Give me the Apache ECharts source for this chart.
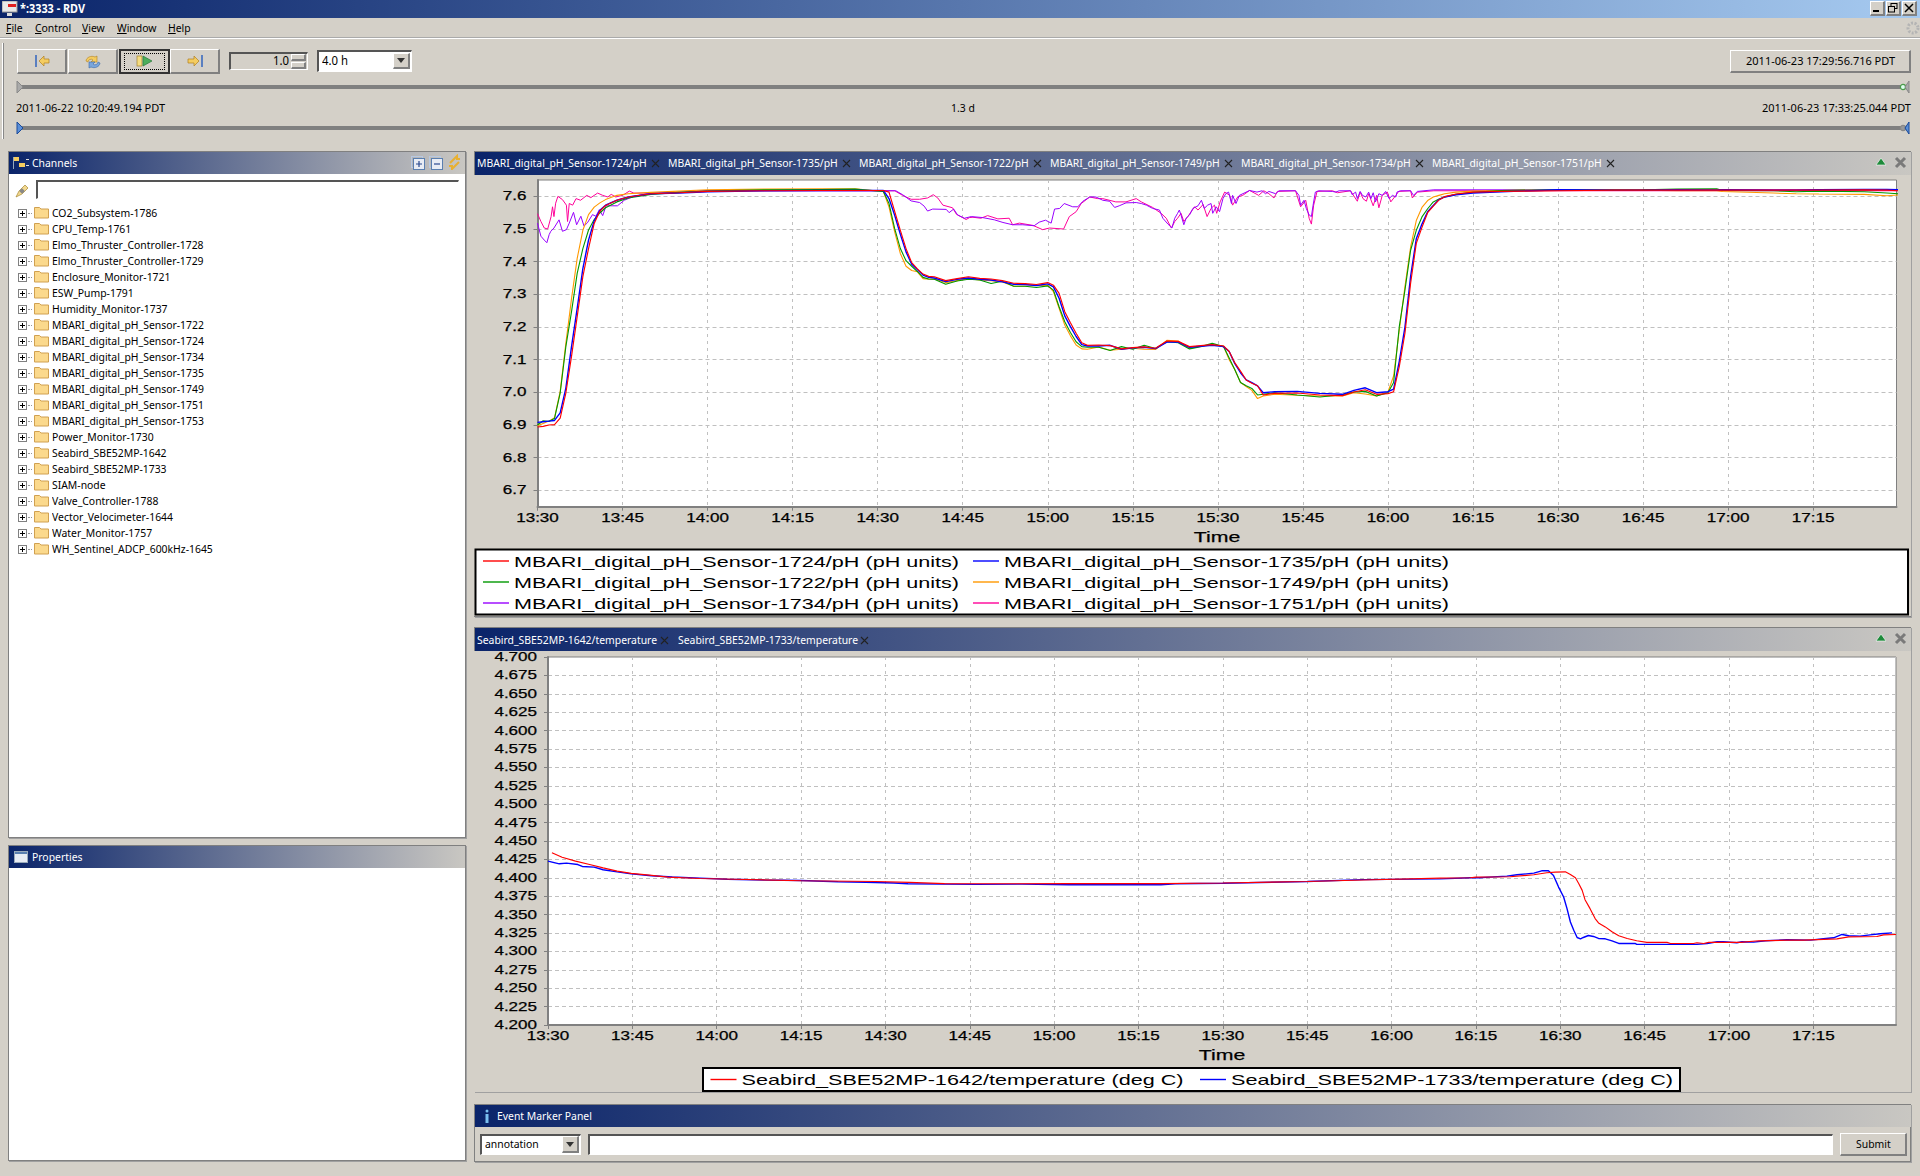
<!DOCTYPE html>
<html><head><meta charset="utf-8"><title>RDV</title>
<script src="https://cdn.jsdelivr.net/npm/echarts@6/dist/echarts.min.js"></script>
<style>
html,body{margin:0;padding:0;width:1920px;height:1176px;overflow:hidden;background:#d4d0c8;font-family:"Noto Sans",sans-serif;font-size:11px;color:#000}
.a{position:absolute;box-sizing:border-box}
.t{position:absolute;white-space:nowrap;line-height:14px;height:14px;transform:scaleX(.945);transform-origin:left center}
.hdr{position:absolute;background:linear-gradient(90deg,#0a246a,#c9c7c2);}
.panel{position:absolute;box-sizing:border-box;border:1px solid #808080;border-right-color:#808080;box-shadow:1px 1px 0 #a0a0a0}
.raised{border-top:1px solid #fff;border-left:1px solid #fff;border-right:2px solid #808080;border-bottom:2px solid #808080;background:#d4d0c8}
.sunken{border-top:2px solid #555;border-left:2px solid #555;border-right:1px solid #fff;border-bottom:1px solid #fff}
svg{display:block}
#ui>svg{position:absolute}
</style></head><body>
<div id="ui"></div>
<div id="c1" class="a" style="left:474px;top:175px;width:1437px;height:441px"></div>
<div id="c2" class="a" style="left:474px;top:651px;width:1437px;height:441px"></div>
<script>
// ---------- UI text ----------
const channels=["CO2_Subsystem-1786","CPU_Temp-1761","Elmo_Thruster_Controller-1728","Elmo_Thruster_Controller-1729","Enclosure_Monitor-1721","ESW_Pump-1791","Humidity_Monitor-1737","MBARI_digital_pH_Sensor-1722","MBARI_digital_pH_Sensor-1724","MBARI_digital_pH_Sensor-1734","MBARI_digital_pH_Sensor-1735","MBARI_digital_pH_Sensor-1749","MBARI_digital_pH_Sensor-1751","MBARI_digital_pH_Sensor-1753","Power_Monitor-1730","Seabird_SBE52MP-1642","Seabird_SBE52MP-1733","SIAM-node","Valve_Controller-1788","Vector_Velocimeter-1644","Water_Monitor-1757","WH_Sentinel_ADCP_600kHz-1645"];
const menus=[["File",6],["Control",35],["View",82],["Window",117],["Help",168]];
const phTabs=["MBARI_digital_pH_Sensor-1724/pH","MBARI_digital_pH_Sensor-1735/pH","MBARI_digital_pH_Sensor-1722/pH","MBARI_digital_pH_Sensor-1749/pH","MBARI_digital_pH_Sensor-1734/pH","MBARI_digital_pH_Sensor-1751/pH"];
const tempTabs=["Seabird_SBE52MP-1642/temperature","Seabird_SBE52MP-1733/temperature"];

// ---------- series names ----------
const phNames=["MBARI_digital_pH_Sensor-1724/pH (pH units)","MBARI_digital_pH_Sensor-1735/pH (pH units)","MBARI_digital_pH_Sensor-1722/pH (pH units)","MBARI_digital_pH_Sensor-1749/pH (pH units)","MBARI_digital_pH_Sensor-1734/pH (pH units)","MBARI_digital_pH_Sensor-1751/pH (pH units)"];
const tempNames=["Seabird_SBE52MP-1642/temperature (deg C)","Seabird_SBE52MP-1733/temperature (deg C)"];

// ---------- axis ticks ----------
const timeTicks=[810,825,840,855,870,885,900,915,930,945,960,975,990,1005,1020,1035];
const phTicks=[6.7,6.8,6.9,7.0,7.1,7.2,7.3,7.4,7.5,7.6];

// ---------- pH data (minutes since midnight) ----------
const tMain=[810,811,812,813,814,815,816,817,818,819,820,821,822,824,826,830,835,840,850,860,866,871,872,873,874,875,876,877,878,879,880,882,884,886,888,890,892,894,896,898,900,901,902,903,904,905,906,907,909,911,913,915,917,919,921,923,925,927,929,931,932,933,934,935,936,937,938,940,944,948,952,954,956,958,960,961,962,963,964,965,966,967,968,969,970,972,975,980,990,1000,1005,1011,1018,1019,1028,1032,1036,1044,1048,1050];
const s1724=[6.894,6.896,6.9,6.901,6.921,6.998,7.11,7.232,7.354,7.44,7.517,7.555,7.572,7.588,7.598,7.608,7.611,7.615,7.617,7.618,7.618,7.618,7.613,7.554,7.496,7.44,7.397,7.378,7.362,7.355,7.354,7.342,7.348,7.354,7.349,7.347,7.342,7.334,7.333,7.33,7.336,7.328,7.303,7.247,7.213,7.181,7.152,7.144,7.145,7.143,7.133,7.137,7.139,7.135,7.157,7.156,7.14,7.143,7.146,7.142,7.125,7.09,7.065,7.038,7.028,7.02,6.992,6.997,6.998,6.992,6.99,7.001,7.008,6.994,6.996,7.002,7.079,7.181,7.334,7.456,7.505,7.55,7.57,7.589,7.599,7.607,7.613,7.615,7.617,7.619,7.619,7.619,7.619,7.619,7.619,7.619,7.619,7.62,7.619,7.617];
const s1735=[6.908,6.91,6.912,6.914,6.937,7.013,7.14,7.257,7.379,7.466,7.525,7.557,7.573,7.588,7.598,7.608,7.61,7.614,7.617,7.618,7.618,7.618,7.593,7.542,7.484,7.43,7.392,7.376,7.359,7.352,7.35,7.339,7.346,7.35,7.346,7.344,7.338,7.331,7.33,7.327,7.332,7.323,7.288,7.234,7.201,7.171,7.146,7.142,7.142,7.144,7.132,7.136,7.138,7.134,7.154,7.154,7.138,7.141,7.144,7.14,7.125,7.088,7.06,7.038,7.03,7.02,6.999,7.002,7.003,6.997,6.994,7.006,7.014,6.999,7.002,7.01,7.095,7.2,7.355,7.47,7.515,7.553,7.572,7.59,7.598,7.605,7.61,7.614,7.62,7.619,7.619,7.62,7.619,7.62,7.619,7.619,7.62,7.621,7.621,7.62];
const s1722=[6.9,6.913,6.911,6.92,6.998,7.14,7.247,7.364,7.44,7.497,7.529,7.549,7.565,7.583,7.595,7.606,7.612,7.616,7.62,7.621,7.622,7.615,7.578,7.501,7.44,7.403,7.386,7.37,7.352,7.347,7.346,7.331,7.341,7.346,7.344,7.333,7.34,7.325,7.325,7.321,7.326,7.313,7.262,7.216,7.183,7.155,7.14,7.138,7.138,7.128,7.14,7.132,7.144,7.134,7.155,7.152,7.133,7.14,7.15,7.14,7.105,7.069,7.03,7.02,7.012,6.992,6.994,6.999,6.992,6.986,6.993,7.001,7.003,6.989,6.999,7.03,7.201,7.313,7.435,7.496,7.537,7.562,7.583,7.592,7.598,7.606,7.612,7.618,7.62,7.619,7.62,7.622,7.623,7.618,7.617,7.614,7.616,7.614,7.61,7.608];
const s1749=[6.898,6.905,6.912,6.922,7.003,7.15,7.287,7.41,7.496,7.544,7.567,7.58,7.59,7.603,7.608,7.612,7.616,7.62,7.622,7.623,7.623,7.615,7.567,7.491,7.425,7.386,7.373,7.369,7.348,7.346,7.347,7.336,7.342,7.348,7.344,7.342,7.338,7.325,7.325,7.327,7.328,7.308,7.257,7.206,7.173,7.145,7.133,7.132,7.139,7.129,7.132,7.135,7.132,7.131,7.159,7.157,7.134,7.141,7.145,7.142,7.1,7.069,7.03,7.018,7.006,6.981,6.989,6.994,6.991,6.989,6.989,6.999,6.995,6.989,7.001,7.05,7.19,7.324,7.445,7.526,7.566,7.587,7.598,7.603,7.608,7.613,7.616,7.618,7.62,7.62,7.619,7.617,7.617,7.615,7.61,7.608,7.607,7.606,7.602,7.604];

const t1734=[810,810.6,811.2,811.65,812.06,812.35,812.9,813.8,814.4,815.1,815.6,816.35,816.9,817.65,818.2,818.8,819.7,820.3,820.9,821.5,822.1,824.1,825.3,827,829.4,833,840,873.2,874.4,875.9,877.4,878.2,878.8,879.7,882.1,882.6,883.4,884.1,885.3,886.5,888.5,890.6,892.1,893.8,895.6,897.6,898.5,899.6,900.6,901.2,902.1,902.9,904.4,905.3,906.2,907.4,908.5,909.7,910.9,911.8,912.6,913.8,915.6,916.5,917.4,918.5,919.7,920.3,921.2,921.9,922.4,922.9,923.2,923.5,924,924.4,925,925.6,926.5,927.1,927.6,928.2,928.8,929.1,929.7,930.3,930.9,931.4,931.9,932.4,932.6,933.2,933.8,935.6,936.9,937.8,938.4,939,940.2,940.8,943.7,944.3,944.6,945.2,945.6,946.1,946.5,946.8,947.2,947.8,950.2,950.8,951.4,953.4,953.7,954.3,954.6,955.1,955.5,956.1,956.6,957,957.4,957.8,958.4,959,959.6,960.2,960.8,961.4,961.6,962.2,964,964.5,965.2,968.1,1050];
const s1734=[7.518,7.478,7.466,7.458,7.483,7.493,7.503,7.528,7.493,7.498,7.518,7.551,7.513,7.539,7.509,7.519,7.544,7.539,7.559,7.541,7.571,7.571,7.588,7.6,7.608,7.611,7.617,7.617,7.605,7.586,7.581,7.57,7.555,7.561,7.56,7.55,7.561,7.543,7.533,7.538,7.535,7.528,7.52,7.513,7.513,7.51,7.521,7.527,7.518,7.561,7.563,7.578,7.568,7.568,7.585,7.598,7.598,7.588,7.585,7.566,7.571,7.58,7.581,7.578,7.573,7.563,7.558,7.533,7.515,7.503,7.533,7.548,7.558,7.543,7.513,7.533,7.543,7.563,7.571,7.588,7.563,7.573,7.578,7.548,7.568,7.553,7.593,7.608,7.613,7.578,7.603,7.578,7.603,7.618,7.613,7.617,7.608,7.615,7.608,7.617,7.617,7.603,7.573,7.588,7.563,7.543,7.538,7.573,7.613,7.617,7.615,7.613,7.617,7.617,7.605,7.613,7.593,7.615,7.603,7.598,7.613,7.593,7.611,7.583,7.608,7.603,7.615,7.593,7.603,7.598,7.613,7.617,7.617,7.603,7.615,7.62,7.62];

const t1751=[810,810.6,811.2,811.8,812.4,812.65,812.9,813.2,813.6,814.4,815.1,815.3,815.6,816.2,816.8,817.6,818.7,819.4,820.6,821.5,822.4,823,823.8,825,826.2,827,829.4,835,840,873,874.4,875.9,877.4,878.8,879.8,880.6,881.5,883.2,883.9,885.6,886.2,886.8,888.2,889.4,891.2,893.2,893.8,895,897.4,899.1,900.3,902.8,903.8,905,905.9,907.4,908.8,909.7,912,913.8,915.6,916.5,918.5,920,920.9,921.8,922.4,922.9,923.5,924,924.7,925.9,926.5,927.4,928.1,928.8,929.4,929.8,930.4,931.2,932.1,932.6,933.5,934.4,935.6,937.2,938.1,939,939.9,940.5,943.7,944.6,945.5,946.1,946.5,946.9,947.5,950.2,951.1,953.4,954,954.6,955.1,955.6,956.2,956.6,957.4,958,958.4,959,959.9,960.5,961.4,961.9,964,964.3,965.2,968.1,1050];
const s1751=[7.547,7.523,7.503,7.5,7.538,7.568,7.538,7.579,7.6,7.59,7.573,7.523,7.578,7.573,7.593,7.588,7.603,7.596,7.61,7.603,7.598,7.606,7.598,7.603,7.616,7.61,7.61,7.612,7.618,7.617,7.603,7.591,7.591,7.595,7.605,7.595,7.573,7.565,7.545,7.529,7.535,7.536,7.533,7.541,7.531,7.533,7.513,7.518,7.511,7.498,7.503,7.5,7.538,7.553,7.578,7.598,7.593,7.593,7.583,7.583,7.593,7.583,7.566,7.548,7.533,7.503,7.523,7.533,7.548,7.523,7.538,7.568,7.558,7.575,7.538,7.563,7.573,7.548,7.583,7.613,7.603,7.573,7.598,7.603,7.618,7.603,7.617,7.608,7.595,7.615,7.617,7.568,7.588,7.533,7.515,7.573,7.615,7.617,7.611,7.617,7.601,7.585,7.613,7.593,7.585,7.608,7.571,7.603,7.565,7.603,7.613,7.583,7.603,7.615,7.617,7.595,7.613,7.617,7.617];

// ---------- temperature data ----------
const t1642=[810.7,812.5,814.9,817.4,819.8,822.3,824.8,828,831.3,837,845.2,855,868.2,874.3,880.5,886.2,902.6,919,930,945,955,968.66,974,975,981.1,985.3,987.6,989.1,990.9,991.8,992.7,993.3,993.9,994.4,995.3,996.2,996.8,998,999.2,1000.4,1001.9,1003.6,1005.4,1009,1009.6,1013.7,1014.3,1015.5,1016.4,1022,1025.3,1030.3,1033.3,1039.2,1041.3,1046.3,1047.5,1049.7];
const s1642=[4.434,4.428,4.4226,4.418,4.4135,4.409,4.406,4.4036,4.401,4.399,4.3977,4.396,4.395,4.3937,4.392,4.3919,4.392,4.392,4.393,4.395,4.397,4.3995,4.4,4.4009,4.4014,4.4041,4.4068,4.4077,4.4081,4.4045,4.4,4.3919,4.3829,4.3703,4.3581,4.3446,4.3387,4.3333,4.3266,4.3212,4.3176,4.3144,4.3122,4.3122,4.3108,4.3108,4.3117,4.3108,4.3122,4.3122,4.3144,4.3153,4.3153,4.3171,4.3198,4.3203,4.3225,4.323];
const t1733=[810,812,813.3,815.3,816.1,818.2,819.8,822.3,824.8,828.4,832.1,837,841.9,848.5,855,861.6,866.5,871.5,874,886.2,894.3,902.6,919,921.5,930,945,955,968.66,974,975.5,980.5,982.3,985.3,986.7,987.9,988.8,989.7,990.6,991.2,991.8,992.4,993,993.6,994.1,995,995.9,996.8,998,999.2,1000.4,1003.3,1003.6,1014.3,1016.1,1017.9,1019,1021.4,1022.3,1024.4,1026.5,1030.3,1034.5,1036.8,1038.6,1040.1,1041.3,1043.3,1045.1,1046.9,1049];
const s1733=[4.4226,4.419,4.42,4.418,4.4154,4.4145,4.411,4.408,4.4054,4.4027,4.401,4.3995,4.398,4.397,4.3964,4.3946,4.394,4.393,4.392,4.391,4.3914,4.3905,4.3905,4.392,4.3925,4.395,4.3975,4.3986,4.4,4.4,4.4023,4.4041,4.4063,4.4095,4.4095,4.4032,4.3874,4.3739,4.3581,4.34,4.3288,4.3189,4.3171,4.3189,4.3216,4.3203,4.3176,4.3171,4.3144,4.3108,4.3108,4.3095,4.3095,4.3108,4.3131,4.3131,4.3117,4.3131,4.3126,4.3144,4.3158,4.3153,4.3171,4.3185,4.323,4.3212,4.3207,4.3225,4.3239,4.3252];

// ---------- build the application chrome ----------
const ui=document.getElementById('ui');
function box(x,y,w,h,css,cls){const d=document.createElement('div');d.className='a '+(cls||'');d.style.cssText+=`left:${x}px;top:${y}px;width:${w}px;height:${h}px;`+(css||'');ui.appendChild(d);return d;}
function txt(s,x,cy,css){const d=document.createElement('div');d.className='t';d.textContent=s;d.style.cssText+=`left:${x}px;top:${cy-7}px;`+(css||'');ui.appendChild(d);return d;}
function rtxt(s,r,cy,css){const d=txt(s,0,cy,css);d.style.left='auto';d.style.right=(1920-r)+'px';d.style.transformOrigin='right center';return d;}
function svg(x,y,w,h,inner){const d=document.createElement('div');d.innerHTML=`<svg style="left:${x}px;top:${y}px" width="${w}" height="${h}" viewBox="0 0 ${w} ${h}">${inner}</svg>`;ui.appendChild(d.firstChild);}
function hdr(x,y,w,h){return box(x,y,w,h,'','hdr');}
function closeX(x,cy){svg(x-4,cy-4,9,9,'<path d="M1 1l7 7M8 1l-7 7" stroke="#222" stroke-width="1.1"/>');}

// title bar
box(0,0,1920,18,'background:linear-gradient(90deg,#0a246a,#a6caf0)');
svg(2,1,16,16,'<rect x="0" y="0" width="15" height="11" fill="#e8e8e8" stroke="#999"/><rect x="6" y="3" width="8" height="3" fill="#e02020"/><rect x="5" y="12" width="5" height="3" fill="#ddd"/>');
txt('*:3333 - RDV',20,9,'color:#fff;font-weight:700;font-size:11.5px;');
[1870,1886,1902].forEach((x,i)=>{box(x,1,15,15,'','raised');
 svg(x+2,3,10,10,['<rect x="1" y="7" width="6" height="2" fill="#000"/>','<rect x="3" y="0.5" width="6" height="5" fill="none" stroke="#000"/><rect x="0.5" y="3.5" width="6" height="5.5" fill="#d4d0c8" stroke="#000"/>','<path d="M1 1l8 8M9 1l-8 8" stroke="#000" stroke-width="1.5"/>'][i]);});
// menu
menus.forEach(m=>{const d=txt('',m[1],28);d.innerHTML='<u>'+m[0][0]+'</u>'+m[0].slice(1);});
box(0,38,1920,1,'background:#fff');box(0,37,1920,1,'background:#aaa');
svg(1906,20,14,16,'<circle cx="7" cy="8" r="5" fill="none" stroke="#b4b4b4" stroke-width="3" stroke-dasharray="2 1.5"/>');
// toolbar
box(2,43,2,96,'background:#fff;border-right:1px solid #888');
[17,68,119,170].forEach((x,i)=>{box(x,49,i==2?51:50,25,i==2?'border:2px solid #333;background:#d4d0c8':'','raised');});
box(124,53,41,17,'border:1px dotted #000');
svg(34,53,16,16,'<rect x="1" y="2" width="2" height="12" fill="#5a7fc0"/><polygon points="5,8 10,3 10,6 15,6 15,10 10,10 10,13" fill="#f4cc60" stroke="#b08020" stroke-width=".7"/>');
svg(84,53,18,18,'<path d="M2 8a6 5 0 0 1 9-4l2-1v6h-6l2-2a3 3 0 0 0-5 2z" fill="#f4cc60" stroke="#b08020" stroke-width=".6"/><path d="M16 10a6 5 0 0 1-9 4l-2 1v-6h6l-2 2a3 3 0 0 0 5-2z" fill="#7aa6dc" stroke="#3a6aa8" stroke-width=".6"/>');
svg(136,53,18,16,'<rect x="1" y="3" width="5" height="10" fill="#f4dc80" stroke="#a08030" stroke-width=".7"/><polygon points="7,3 16,8 7,13" fill="#4cae5c" stroke="#2a7a3a" stroke-width=".7"/>');
svg(186,53,18,16,'<polygon points="13,8 8,3 8,6 2,6 2,10 8,10 8,13" fill="#f4cc60" stroke="#b08020" stroke-width=".7"/><rect x="15" y="2" width="2" height="12" fill="#5a7fc0"/>');
box(229,52,79,18,'','sunken');rtxt('1.0',289,61,'font-size:12px;');
box(291,54,15,7,'','raised');box(291,62,15,7,'','raised');
box(317,50,95,22,'background:#fff','sunken');txt('4.0 h',322,61,'font-size:12px;');
box(393,53,17,16,'','raised');svg(396,58,11,6,'<polygon points="1,0 9,0 5,5" fill="#333"/>');
box(1730,50,181,23,'','raised');txt('2011-06-23 17:29:56.716 PDT',1746,61,'transform:none;');
// sliders
[87,128].forEach((y,i)=>{box(17,y-2,1891,4,'background:#808080');
 svg(16,y-6,8,12,`<polygon points="1,0 7,6 1,12" fill="${i?'#5a8fd8':'#aaa'}" stroke="${i?'#1a4a9a':'#888'}"/>`);
 svg(1899,y-6,12,12,`<circle cx="4" cy="6" r="2.6" fill="${i?'#999':'#dfe'}" stroke="${i?'#888':'#4a9a4a'}" stroke-width="1.2"/><polygon points="10,0 6,6 10,12" fill="${i?'#5a8fd8':'#aaa'}" stroke="${i?'#1a4a9a':'#888'}"/>`);});
txt('2011-06-22 10:20:49.194 PDT',16,108,'transform:none;');txt('1.3 d',951,108);rtxt('2011-06-23 17:33:25.044 PDT',1911,108,'transform:none;');

// Channels panel
box(8,151,458,687,'background:#fff;','panel');
hdr(9,152,456,22);
svg(13,157,16,14,'<rect x="0" y="0" width="6" height="4" fill="#f4cc60"/><rect x="6" y="6" width="6" height="4" fill="#f4cc60"/><rect x="0" y="0" width="1" height="12" fill="#9ab"/><rect x="13" y="2" width="3" height="1" fill="#ddd"/><rect x="13" y="8" width="3" height="1" fill="#ddd"/>');
txt('Channels',32,163,'color:#fff;');
[411,429].forEach((x,i)=>svg(x,156,14,14,`<rect x=".5" y=".5" width="11" height="11" fill="none" stroke="#b8c8e0"/><rect x="2.5" y="2.5" width="11" height="11" fill="#e8ecf4" stroke="#5a7fb0"/><path d="M5 8h6${i?'':'M8 5v6'}" stroke="#2a4a90" stroke-width="1.2"/>`));
svg(447,154,15,16,'<path d="M3 9l7-7v3h3M12 8l-7 7v-3H2" fill="none" stroke="#e8b030" stroke-width="2"/>');
svg(14,183,16,16,'<path d="M2 14l3-6 6-6 3 3-6 6z" fill="#f2d890" stroke="#a88830" stroke-width=".7"/><rect x="6" y="6" width="4" height="4" transform="rotate(45 8 8)" fill="#888"/>');
box(36,180,423,19,'background:#fff','sunken');
channels.forEach((n,i)=>{const y=213+16*i;
 box(18,y-4,9,9,'border:1px solid #808080;background:#fff');
 box(20,y,5,1,'background:#000');box(22,y-2,1,5,'background:#000');
 box(28,y,4,1,'border-top:1px dotted #999;height:0');
 svg(34,y-7,15,13,'<path d="M.5 3V1.5h5l1.5 1.5h7.5v9H.5z" fill="#fbd98c" stroke="#d0a050"/>');
 txt(n,52,y);
});
// Properties panel
box(8,845,458,316,'background:#fff;','panel');
hdr(9,846,456,22);
svg(14,851,14,12,'<rect x=".5" y=".5" width="13" height="11" fill="#e8ecf4" stroke="#9ab"/><rect x="1" y="1" width="12" height="2" fill="#5a7fb0"/>');
txt('Properties',32,857,'color:#fff;');

// pH panel
box(474,151,1437,466,'','panel');
hdr(474.5,152,1436,23);
phTabs.forEach((n,i)=>{const x=477+191*i;txt(n,x,163,'color:#fff;');closeX(x+178,163);});
function hdrBtns(y){svg(1875,y-4,12,8,'<polygon points="6,0 11,7 1,7" fill="#1d8a3a" stroke="#fff" stroke-width=".6"/>');
 svg(1894,y-6,13,13,'<path d="M2 2l9 9M11 2l-9 9" stroke="#7a7a7a" stroke-width="3"/>');}
hdrBtns(162);
// temperature panel
box(474,627,1437,465,'','panel');
hdr(474.5,628,1436,23);
[[477,664],[677.5,864]].forEach((p,i)=>{txt(tempTabs[i],p[0],640,'color:#fff;');closeX(p[1],640);});
hdrBtns(638);
// Event marker panel
box(474,1104,1437,58,'','panel');
hdr(474.5,1105,1436,22);
svg(483,1109,8,15,'<circle cx="4" cy="2" r="1.5" fill="#7ac0f0"/><rect x="2.5" y="5" width="3" height="9" fill="#7ac0f0"/>');
txt('Event Marker Panel',497,1116,'color:#fff;');
box(480,1134,101,21,'background:#fff','sunken');txt('annotation',485,1144);
box(562,1136,17,17,'','raised');svg(565,1142,11,6,'<polygon points="1,0 9,0 5,5" fill="#333"/>');
box(588,1134,1245,21,'background:#fff','sunken');
box(1840,1133,67,23,'','raised');txt('Submit',1856,1144);

// ---------- charts ----------
const zip=(t,v)=>t.map((x,i)=>[x,v[i]]);
const hhmm=v=>{const h=Math.floor(v/60),m=Math.round(v-h*60);return (h<10?'0':'')+h+':'+(m<10?'0':'')+m;};
const AXF='"Liberation Sans"';
function line(name,t,v,color,w){return {name,type:'line',data:zip(t,v),symbol:'none',showSymbol:false,silent:true,smooth:false,
  lineStyle:{color,width:w||1.1},itemStyle:{color}};}
function xAxis(){return {type:'value',min:810,max:1049.7,name:'Time',nameLocation:'middle',nameGap:17,
  nameTextStyle:{fontFamily:AXF,fontSize:15,color:'#000'},
  axisLine:{show:true,lineStyle:{color:'#808080',width:2}},
  axisTick:{show:true,length:4,customValues:timeTicks,lineStyle:{color:'#808080'}},
  axisLabel:{customValues:timeTicks,formatter:hhmm,fontFamily:AXF,fontSize:12,color:'#000',margin:5},
  splitLine:{show:true,lineStyle:{type:[3,4],color:'#c0c0c0',width:1}}};}
function yAxis(o){return Object.assign({type:'value',
  axisLine:{show:true,lineStyle:{color:'#808080',width:2}},
  axisTick:{show:true,length:4,lineStyle:{color:'#808080'}},
  axisLabel:{fontFamily:AXF,fontSize:12,color:'#000',margin:11},
  splitLine:{show:true,lineStyle:{type:[4,3],color:'#c0c0c0',width:1}}},o);}
// natural width of a legend entry: the first legend's right padding fills out the white box
const mctx=document.createElement('canvas').getContext('2d');mctx.font='15px "Liberation Sans"';
const natW=s=>mctx.measureText(s).width;
const legendCommon={orient:'vertical',selectedMode:false,icon:'rect',itemWidth:26,itemHeight:1.4,itemGap:6,
  textStyle:{fontFamily:AXF,fontSize:15,color:'#000'}};
function legendBox(o,boxW,pv){const padR=boxW-7.5-31-natW(o.data[0]);
  return Object.assign({},legendCommon,o,{padding:[pv,padR,pv,7.5],backgroundColor:'#fff',borderColor:'#000',borderWidth:2,z:5});}
function legendPlain(o,pv){return Object.assign({},legendCommon,o,{padding:[pv,0,pv,0],z:6});}

const c1=echarts.init(document.getElementById('c1'),null,{renderer:'svg'});
const y1=yAxis({min:6.65,max:7.65});
y1.axisTick.customValues=phTicks;y1.axisLabel.customValues=phTicks;y1.axisLabel.formatter=v=>v.toFixed(1);
c1.setOption({animation:false,backgroundColor:'#d4d0c8',
 grid:{left:63.5,top:5,width:1359,height:326.7,show:true,backgroundColor:'#fff',borderColor:'#808080',borderWidth:1},
 xAxis:xAxis(),yAxis:y1,
 legend:[legendBox({left:1.5,top:374.5,data:[phNames[0],phNames[2],phNames[4]]},1432.5,4),
         legendPlain({left:499,top:374.5,data:[phNames[1],phNames[3],phNames[5]]},4)],
 series:[line(phNames[5],t1751,s1751,'#ff0099',1),line(phNames[4],t1734,s1734,'#9900ff',1),
  line(phNames[3],tMain,s1749,'#ff9900'),line(phNames[2],tMain,s1722,'#009900'),
  line(phNames[1],tMain,s1735,'#0000ff',1.4),line(phNames[0],tMain,s1724,'#ff0000',1.15)]});

const c2=echarts.init(document.getElementById('c2'),null,{renderer:'svg'});
c2.setOption({animation:false,backgroundColor:'#d4d0c8',
 grid:{left:74,top:5,width:1348,height:369,show:true,backgroundColor:'#fff',borderColor:'#808080',borderWidth:1},
 xAxis:xAxis(),
 yAxis:yAxis({min:4.2,max:4.7,interval:0.025,axisLabel:{fontFamily:AXF,fontSize:12,color:'#000',margin:11,formatter:v=>v.toFixed(3)}}),
 legend:[legendBox({left:229,top:417,data:[tempNames[0]]},977,4),
         legendPlain({left:726,top:417,data:[tempNames[1]]},4)],
 series:[line(tempNames[1],t1733,s1733,'#0000ff',1.4),line(tempNames[0],t1642,s1642,'#ff0000',1.15)]});

// The reference's chart text is a horizontally stretched Arial: widen the glyphs of the real text.
document.querySelectorAll('#c1 text,#c2 text').forEach(el=>{
  const w=el.getComputedTextLength();if(!w)return;
  const isLegend=el.textContent.indexOf('/')>=0;
  const target=isLegend?(el.textContent.indexOf('Seabird')===0?442:445):w*1.42;
  el.setAttribute('textLength',target.toFixed(1));
  el.setAttribute('lengthAdjust','spacingAndGlyphs');
  if(!isLegend){el.style.stroke='#000';el.style.strokeWidth='0.25';}
});
</script>
</body></html>
